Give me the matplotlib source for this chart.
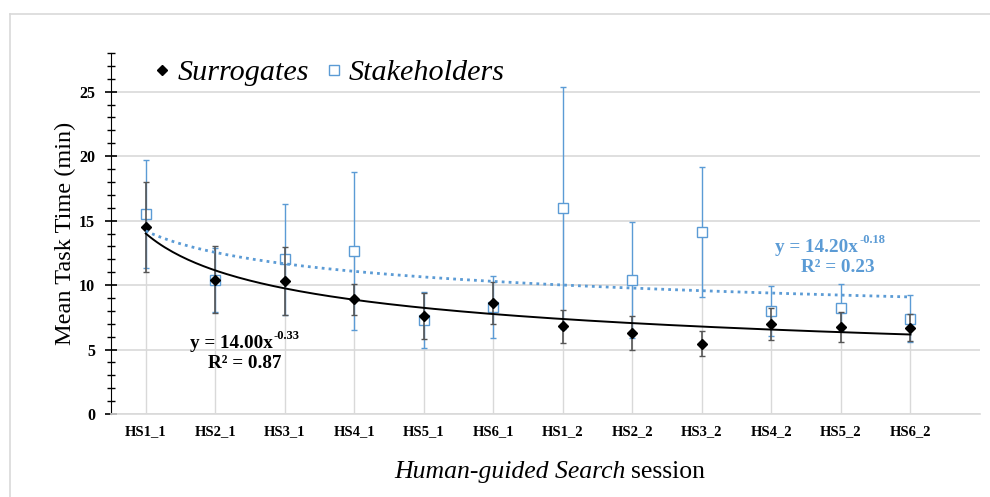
import matplotlib
matplotlib.use("Agg")
import matplotlib.pyplot as plt
import numpy as np
from matplotlib.lines import Line2D
from matplotlib.ticker import MultipleLocator

# values
sessions = ["HS1_1", "HS2_1", "HS3_1", "HS4_1", "HS5_1", "HS6_1",
            "HS1_2", "HS2_2", "HS3_2", "HS4_2", "HS5_2", "HS6_2"]
surrogates = [14.5, 10.4, 10.3, 8.9, 7.6, 8.6, 6.8, 6.3, 5.45, 7.0, 6.75, 6.7]
surrogates_err = [3.5, 2.6, 2.65, 1.2, 1.75, 1.6, 1.3, 1.3, 0.95, 1.25, 1.2, 1.05]
stakeholders = [15.5, 10.4, 12.0, 12.65, 7.3, 8.3, 16.0, 10.4, 14.1, 8.0, 8.25, 7.4]
stakeholders_err = [4.2, 2.5, 4.3, 6.1, 2.2, 2.4, 9.4, 4.5, 5.05, 1.95, 1.85, 1.8]

# power trendlines as printed on the chart: y = a * x^b, plus R^2
surr_fit = (14.00, -0.33, 0.87)
stake_fit = (14.20, -0.18, 0.23)

BLUE = "#5B9BD5"
GRID = "#d9d9d9"
SERIF = "Liberation Serif"


def add_equation(ax, x_end, y, x_r2, y_r2, fit, color):
    """Excel-style trendline label; x_end is where the 'x' of the equation ends."""
    a, b, r2 = fit
    style = dict(color=color, fontweight="bold", family=SERIF)
    t = ax.text(x_end, y, f"y = {a:.2f}x", fontsize=13.8, ha="right",
                va="baseline", **style)
    ax.annotate(f"{b:.2f}", xy=(1, 0), xycoords=t, xytext=(0.5, 9.5),
                textcoords="offset points", fontsize=9, ha="left",
                va="baseline", **style)
    ax.text(x_r2, y_r2, f"R\u00b2 = {r2:.2f}", fontsize=13.8, ha="center",
            va="baseline", **style)


def main() -> None:
    fig = plt.figure(figsize=(9.9, 4.97), dpi=100)
    ax = fig.add_axes([111 / 990, 83 / 497, 869 / 990, 361 / 497])

    x = np.arange(1, len(sessions) + 1)

    # drop lines down to the axis
    ax.vlines(x, 0, np.maximum(surrogates, stakeholders), color=GRID,
              lw=1, zorder=1)

    ax.errorbar(x, stakeholders, yerr=stakeholders_err, fmt="s",
                mfc="white", mec=BLUE, mew=1, ms=7, ecolor=BLUE,
                elinewidth=1, capsize=2.5, capthick=1, zorder=3)
    ax.errorbar(x, surrogates, yerr=surrogates_err, fmt="D", color="black",
                ms=5, ecolor="#555555", elinewidth=1.2, capsize=2.5,
                capthick=1, zorder=4)

    xs = np.linspace(1, len(sessions), 200)
    ax.plot(xs, surr_fit[0] * xs ** surr_fit[1], color="black", lw=1.4,
            zorder=5)
    ax.plot(xs, stake_fit[0] * xs ** stake_fit[1], color=BLUE, lw=2,
            ls=(0, (1, 1.5)), zorder=5)

    add_equation(ax, 2.83, 5.1, 2.43, 3.55, surr_fit, "black")
    add_equation(ax, 11.25, 12.55, 10.96, 11.0, stake_fit, BLUE)

    ax.set_xlim(0.5, 13.0)
    ax.set_ylim(0, 28)
    ax.yaxis.set_major_locator(MultipleLocator(5))
    ax.yaxis.set_minor_locator(MultipleLocator(1))
    ax.grid(axis="y", color=GRID, lw=1.2)
    ax.set_axisbelow(True)
    ax.set_xticks(x)
    ax.set_xticklabels(sessions)

    for s in ("top", "right"):
        ax.spines[s].set_visible(False)
    ax.spines["bottom"].set_color(GRID)
    ax.spines["bottom"].set_linewidth(1.2)
    ax.tick_params(axis="x", length=0, pad=8)
    ax.tick_params(axis="y", which="major", direction="inout", length=9,
                   width=1.2, pad=7)
    ax.tick_params(axis="y", which="minor", direction="inout", length=6,
                   width=1)
    for lab in ax.get_xticklabels():
        lab.set_family(SERIF)
        lab.set_fontweight("bold")
        lab.set_fontsize(10.5)
    for lab in ax.get_yticklabels():
        lab.set_family(SERIF)
        lab.set_fontweight("bold")
        lab.set_fontsize(11.5)

    ax.set_ylabel("Mean Task Time (min)", family=SERIF, fontsize=17.5,
                  labelpad=2)
    fig.text(626 / 990, 0.05, "Human-guided Search", family=SERIF,
             fontsize=18.5, style="italic", ha="right", va="center")
    fig.text(631 / 990, 0.05, "session", family=SERIF, fontsize=18.5,
             ha="left", va="center")

    handles = [
        Line2D([], [], ls="none", marker="D", color="black", ms=5),
        Line2D([], [], ls="none", marker="s", mfc="white", mec=BLUE, ms=7,
               mew=1),
    ]
    ax.legend(handles, ["Surrogates", "Stakeholders"], ncol=2, frameon=False,
              loc="center left", bbox_to_anchor=(0.019, 0.945),
              handlelength=0.5, handletextpad=0.25, columnspacing=0.58,
              prop={"family": SERIF, "style": "italic", "size": 21.7})

    # light frame around the chart area
    fig.add_artist(Line2D([10 / 990, 1], [1 - 14 / 497] * 2, color=GRID,
                          lw=1.2, transform=fig.transFigure))
    fig.add_artist(Line2D([10 / 990] * 2, [0, 1 - 14 / 497], color=GRID,
                          lw=1.2, transform=fig.transFigure))

    fig.savefig("out.png", dpi=100, facecolor="white")


if __name__ == "__main__":
    main()
